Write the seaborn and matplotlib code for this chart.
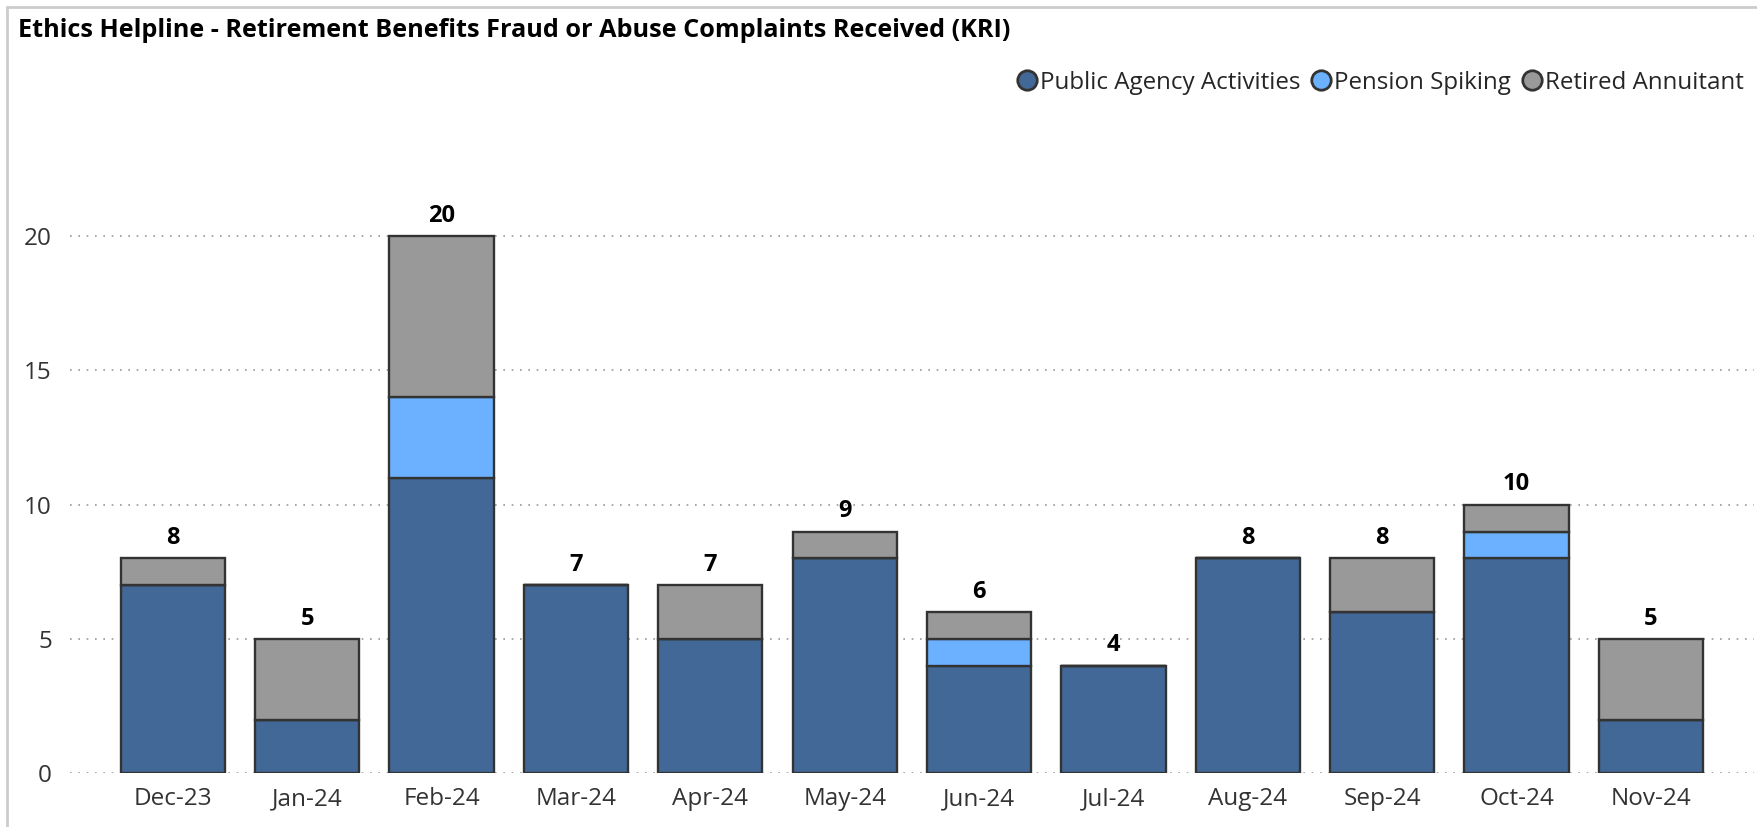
import numpy as np
import pandas as pd
import seaborn as sns
import matplotlib.pyplot as plt
from matplotlib.lines import Line2D

months = ['Dec-23', 'Jan-24', 'Feb-24', 'Mar-24', 'Apr-24', 'May-24',
          'Jun-24', 'Jul-24', 'Aug-24', 'Sep-24', 'Oct-24', 'Nov-24']
public_agency = [7, 2, 11, 7, 5, 8, 4, 4, 8, 6, 8, 2]
pension_spiking = [0, 0, 3, 0, 0, 0, 1, 0, 0, 0, 1, 0]
retired_annuitant = [1, 3, 6, 0, 2, 1, 1, 0, 0, 2, 1, 3]

series = ['Public Agency Activities', 'Pension Spiking', 'Retired Annuitant']
colors = ['#426897', '#6cb1ff', '#999999']

sns.set_style('white')
plt.rcParams['font.family'] = ['Open Sans', 'DejaVu Sans']

fig = plt.figure(figsize=(17.58, 8.27), dpi=100)
ax = fig.add_axes([0.0398, 0.065, 0.9582, 0.781])

df = pd.DataFrame({'month': months, 'paa': public_agency,
                   'ps': pension_spiking, 'ra': retired_annuitant})
bottom = np.zeros(len(df))
for col, c in zip(['paa', 'ps', 'ra'], colors):
    sns.barplot(data=df, x='month', y=col, bottom=bottom, color=c, width=0.776,
                edgecolor='#333333', linewidth=1.7, saturation=1, ax=ax)
    bottom = bottom + df[col].values

for i, tot in enumerate(bottom):
    ax.annotate(f'{int(tot)}', (i, tot), xytext=(0, 6), textcoords='offset points',
                ha='center', va='bottom', fontsize=17, fontweight='bold', color='black')

ax.set_xlim(-0.765, 11.77)
ax.set_ylim(0, 24.05)
ax.set_yticks([0, 5, 10, 15, 20])
ax.yaxis.grid(True, linestyle=(0, (1, 4)), color='#999999', linewidth=1.2)
ax.set_axisbelow(True)
for s in ax.spines.values():
    s.set_visible(False)
ax.tick_params(axis='both', length=0, labelsize=17.5, labelcolor='#333333')
ax.tick_params(axis='y', pad=13)
ax.tick_params(axis='x', pad=10)
ax.set_xlabel('')
ax.set_ylabel('')

handles = [Line2D([], [], marker='o', linestyle='', markersize=14,
                  markerfacecolor=c, markeredgecolor='#333333', markeredgewidth=2)
           for c in colors]
fig.legend(handles, series, loc='center right', bbox_to_anchor=(0.9975, 0.9), ncol=3,
           frameon=False, fontsize=17.4, handletextpad=0.0, columnspacing=0.3,
           borderaxespad=0, handlelength=1.1)

fig.text(0.0105, 0.963, 'Ethics Helpline - Retirement Benefits Fraud or Abuse Complaints Received (KRI)',
         fontsize=18.2, fontweight='bold', ha='left', va='center', color='black')

fig.add_artist(Line2D([0.004, 0.004], [0, 0.991], transform=fig.transFigure,
                      color='#cccccc', linewidth=2))
fig.add_artist(Line2D([0.004, 1], [0.991, 0.991], transform=fig.transFigure,
                      color='#cccccc', linewidth=2))

fig.savefig('out.png', dpi=100)
